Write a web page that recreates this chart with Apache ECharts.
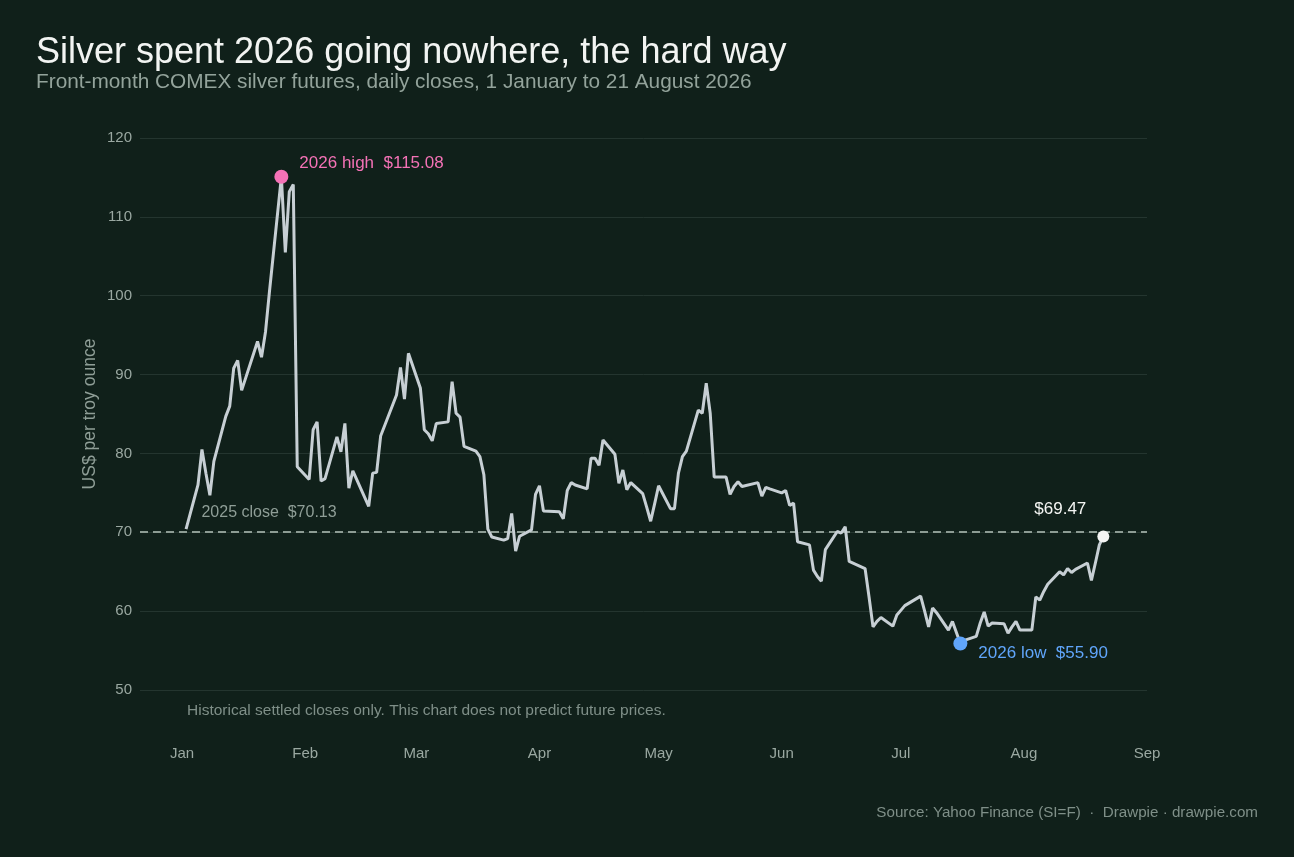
<!DOCTYPE html>
<html>
<head>
<meta charset="utf-8">
<title>Silver 2026</title>
<script src="https://cdn.jsdelivr.net/npm/echarts@6/dist/echarts.min.js"></script>
<style>
  html, body { margin: 0; padding: 0; background: #10201a; }
  #chart { width: 1294px; height: 857px; }
</style>
</head>
<body>
<div id="chart"></div>
<script>
// front-month COMEX silver, daily closes
var dates = [
  '2026-01-02','2026-01-05','2026-01-06','2026-01-07','2026-01-08','2026-01-09',
  '2026-01-12','2026-01-13','2026-01-14','2026-01-15','2026-01-16',
  '2026-01-20','2026-01-21','2026-01-22','2026-01-23',
  '2026-01-26','2026-01-27','2026-01-28','2026-01-29','2026-01-30',
  '2026-02-02','2026-02-03','2026-02-04','2026-02-05','2026-02-06',
  '2026-02-09','2026-02-10','2026-02-11','2026-02-12','2026-02-13',
  '2026-02-17','2026-02-18','2026-02-19','2026-02-20',
  '2026-02-23','2026-02-24','2026-02-25','2026-02-26','2026-02-27',
  '2026-03-02','2026-03-03','2026-03-04','2026-03-05','2026-03-06',
  '2026-03-09','2026-03-10','2026-03-11','2026-03-12','2026-03-13',
  '2026-03-16','2026-03-17','2026-03-18','2026-03-19','2026-03-20',
  '2026-03-23','2026-03-24','2026-03-25','2026-03-26','2026-03-27',
  '2026-03-30','2026-03-31','2026-04-01','2026-04-02',
  '2026-04-06','2026-04-07','2026-04-08','2026-04-09','2026-04-10',
  '2026-04-13','2026-04-14','2026-04-15','2026-04-16','2026-04-17',
  '2026-04-20','2026-04-21','2026-04-22','2026-04-23','2026-04-24',
  '2026-04-27','2026-04-28','2026-04-29','2026-04-30','2026-05-01',
  '2026-05-04','2026-05-05','2026-05-06','2026-05-07','2026-05-08',
  '2026-05-11','2026-05-12','2026-05-13','2026-05-14','2026-05-15',
  '2026-05-18','2026-05-19','2026-05-20','2026-05-21','2026-05-22',
  '2026-05-26','2026-05-27','2026-05-28','2026-05-29',
  '2026-06-01','2026-06-02','2026-06-03','2026-06-04','2026-06-05',
  '2026-06-08','2026-06-09','2026-06-10','2026-06-11','2026-06-12',
  '2026-06-15','2026-06-16','2026-06-17','2026-06-18',
  '2026-06-22','2026-06-23','2026-06-24','2026-06-25','2026-06-26',
  '2026-06-29','2026-06-30','2026-07-01','2026-07-02',
  '2026-07-06','2026-07-07','2026-07-08','2026-07-09','2026-07-10',
  '2026-07-13','2026-07-14','2026-07-15','2026-07-16','2026-07-17',
  '2026-07-20','2026-07-21','2026-07-22','2026-07-23','2026-07-24',
  '2026-07-27','2026-07-28','2026-07-29','2026-07-30','2026-07-31',
  '2026-08-03','2026-08-04','2026-08-05','2026-08-06','2026-08-07',
  '2026-08-10','2026-08-11','2026-08-12','2026-08-13','2026-08-14',
  '2026-08-17','2026-08-18','2026-08-19','2026-08-20','2026-08-21'
];
var closes = [
  70.4, 76.0, 80.5, 77.5, 74.7, 79.0,
  84.7, 86.0, 90.8, 91.8, 88.0,
  94.2, 92.2, 95.4, 100.5,
  115.08, 105.5, 113.2, 114.1, 78.3,
  76.7, 83.0, 84.0, 76.5, 76.8,
  82.1, 80.2, 83.8, 75.6, 77.8,
  73.3, 77.5, 77.6, 82.2,
  86.1, 87.4, 90.9, 86.9, 92.7,
  88.3, 83.0, 82.5, 81.6, 83.8,
  84.0, 89.1, 85.1, 84.6, 80.9,
  80.3, 79.6, 77.3, 70.4, 69.4,
  69.0, 69.2, 72.4, 67.6, 69.5,
  70.3, 74.8, 75.9, 72.7,
  72.6, 71.7, 75.3, 76.3, 76.0,
  75.5, 79.4, 79.4, 78.5, 81.7,
  79.9, 76.2, 77.9, 75.4, 76.3,
  74.9, 73.2, 71.4, 73.6, 75.9,
  73.0, 73.0, 77.5, 79.6, 80.3,
  85.5, 85.1, 88.9, 85.1, 77.0,
  77.0, 74.8, 75.8, 76.4, 75.8,
  76.3, 74.6, 75.7, 75.5,
  75.0, 75.3, 73.4, 73.7, 68.8,
  68.4, 65.2, 64.4, 63.8, 67.8,
  70.1, 69.9, 70.7, 66.3,
  65.4, 61.8, 58.0, 58.7, 59.2,
  58.1, 59.5, 60.1, 60.7,
  61.9, 60.0, 58.0, 60.4, 59.8,
  57.6, 58.7, 57.3, 55.90, 56.3,
  56.8, 58.5, 59.9, 58.1, 58.5,
  58.4, 57.2, 58.0, 58.7, 57.6,
  57.6, 61.8, 61.4, 62.5, 63.4,
  65.0, 64.6, 65.4, 64.9, 65.3,
  66.1, 63.9, 66.1, 68.4, 69.47
];
var prevClose = 70.13;          // 2025 close
var monthLabels = ['Jan','Feb','Mar','Apr','May','Jun','Jul','Aug','Sep'];
var yTicks = [50, 60, 70, 80, 90, 100, 110, 120];

var FONT = '"Liberation Sans", Arial, Helvetica, sans-serif';
var DAY = 86400000;
var chart = echarts.init(document.getElementById('chart'));

function ts(s) {
  var p = s.split('-');
  return Date.UTC(+p[0], +p[1] - 1, +p[2]);
}

var seriesData = dates.map(function (d, i) { return [ts(d), closes[i]]; });

var hiIdx = 0, loIdx = 0;
closes.forEach(function (v, i) {
  if (v > closes[hiIdx]) hiIdx = i;
  if (v < closes[loIdx]) loIdx = i;
});
var lastIdx = closes.length - 1;

var monthStarts = monthLabels.map(function (m, i) { return Date.UTC(2026, i, 1); });
var xMin = monthStarts[0] - 10.6 * DAY;
var xMax = monthStarts[monthStarts.length - 1];

option = {
  backgroundColor: '#10201a',
  animation: false,
  textStyle: { fontFamily: FONT },
  title: {
    text: 'Silver spent 2026 going nowhere, the hard way',
    subtext: 'Front-month COMEX silver futures, daily closes, 1 January to 21 August 2026',
    left: 31,
    top: 30,
    itemGap: 1,
    textStyle: { color: '#f2f4f2', fontSize: 36, fontWeight: 'normal', fontFamily: FONT },
    subtextStyle: { color: '#93a39b', fontSize: 20.8, fontFamily: FONT }
  },
  grid: { left: 140, right: 147, top: 138, bottom: 167 },
  xAxis: {
    type: 'value',
    min: xMin,
    max: xMax,
    axisLine: { show: false },
    axisTick: { show: false },
    splitLine: { show: false },
    axisLabel: {
      customValues: monthStarts,
      color: '#9aa8a1',
      fontSize: 15,
      margin: 56,
      fontFamily: FONT,
      formatter: function (val) { return monthLabels[new Date(val).getUTCMonth()]; }
    }
  },
  yAxis: {
    type: 'value',
    min: 50,
    max: 120,
    interval: 10,
    name: 'US$ per troy ounce',
    nameLocation: 'middle',
    nameRotate: 90,
    nameGap: 41,
    nameMoveOverlap: false,
    nameTextStyle: { color: '#8f9e97', fontSize: 17.5, fontFamily: FONT },
    axisLine: { show: false },
    axisTick: { show: false },
    axisLabel: {
      color: '#9aa8a1', fontSize: 15, margin: 8, fontFamily: FONT,
      formatter: function (v) { return yTicks.indexOf(v) >= 0 ? String(v) : ''; }
    },
    splitLine: { lineStyle: { color: '#24352f', width: 1 } }
  },
  series: [{
    type: 'line',
    data: seriesData,
    showSymbol: false,
    lineStyle: { color: '#c7cfd4', width: 3 },
    itemStyle: { color: '#c7cfd4' },
    z: 3,
    markLine: {
      silent: true,
      symbol: 'none',
      label: { show: false },
      lineStyle: { color: '#8d9c94', type: [8, 5], width: 2 },
      data: [{ yAxis: prevClose }],
      z: 2
    },
    markPoint: {
      silent: true,
      data: [
        {
          coord: seriesData[hiIdx],
          symbol: 'circle', symbolSize: 14,
          itemStyle: { color: '#f472b6' },
          label: {
            show: true, position: 'right', distance: 11, offset: [0, -13],
            formatter: '2026 high  $' + closes[hiIdx].toFixed(2),
            color: '#f472b6', fontSize: 17, fontFamily: FONT
          }
        },
        {
          coord: seriesData[loIdx],
          symbol: 'circle', symbolSize: 14,
          itemStyle: { color: '#60a5fa' },
          label: {
            show: true, position: 'right', distance: 11, offset: [0, 10],
            formatter: '2026 low  $' + closes[loIdx].toFixed(2),
            color: '#60a5fa', fontSize: 17, fontFamily: FONT
          }
        },
        {
          coord: seriesData[lastIdx],
          symbol: 'circle', symbolSize: 12,
          itemStyle: { color: '#f4f5f3' },
          label: {
            show: true, position: 'top', distance: 6, offset: [-43, -7],
            formatter: '$' + closes[lastIdx].toFixed(2),
            color: '#f4f5f3', fontSize: 17, fontFamily: FONT
          }
        },
        {
          coord: [ts('2026-01-06'), prevClose],
          symbol: 'circle', symbolSize: 1,
          itemStyle: { color: 'rgba(0,0,0,0)' },
          label: {
            show: true, position: 'right', distance: 0, offset: [-1, -19],
            formatter: '2025 close  $' + prevClose.toFixed(2),
            color: '#8f9e97', fontSize: 16, fontFamily: FONT
          }
        }
      ]
    }
  }],
  graphic: [
    {
      type: 'text', left: 187, top: 703,
      style: {
        text: 'Historical settled closes only. This chart does not predict future prices.',
        fill: '#7f8f88', fontSize: 15.5, fontFamily: FONT
      }
    },
    {
      type: 'text', right: 36, top: 805,
      style: {
        text: 'Source: Yahoo Finance (SI=F)  \u00b7  Drawpie \u00b7 drawpie.com',
        fill: '#7f8f88', fontSize: 15.2, fontFamily: FONT
      }
    }
  ]
};

if (option && typeof option === 'object') {
  chart.setOption(option, true);
}
</script>
</body>
</html>
